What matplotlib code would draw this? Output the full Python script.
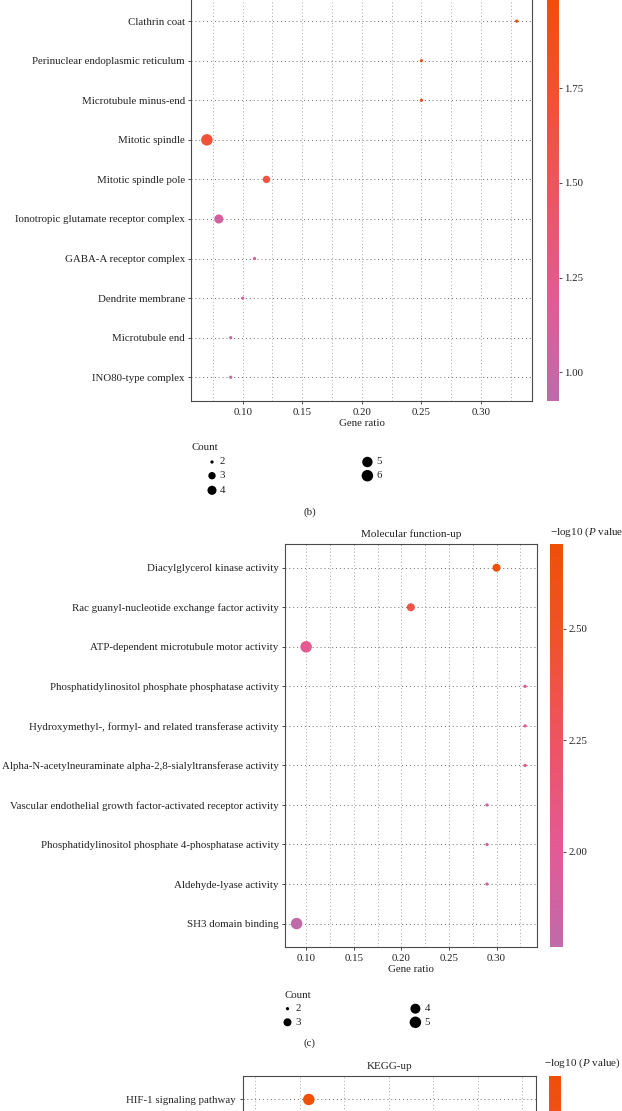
import numpy as np
import matplotlib
matplotlib.use("Agg")
import matplotlib.pyplot as plt
import matplotlib.cm as cm
from matplotlib.colors import LinearSegmentedColormap, Normalize
from matplotlib.ticker import MultipleLocator, FormatStrFormatter

plt.rcParams['font.family'] = ['Liberation Serif', 'DejaVu Serif']
plt.rcParams['mathtext.fontset'] = 'custom'
plt.rcParams['mathtext.rm'] = 'Liberation Serif'
plt.rcParams['mathtext.it'] = 'Liberation Serif:italic'
plt.rcParams['font.size'] = 7.8

# panel (b) cellular component-up
cc_terms = ["Clathrin coat", "Perinuclear endoplasmic reticulum", "Microtubule minus-end",
            "Mitotic spindle", "Mitotic spindle pole", "Ionotropic glutamate receptor complex",
            "GABA-A receptor complex", "Dendrite membrane", "Microtubule end", "INO80-type complex"]
cc_ratio = [0.33, 0.25, 0.25, 0.07, 0.12, 0.08, 0.11, 0.10, 0.09, 0.09]
cc_count = [2, 2, 2, 6, 3, 4, 2, 2, 2, 2]
cc_logp = [1.99, 1.91, 1.90, 1.68, 1.62, 1.08, 1.16, 1.12, 1.01, 0.924]
cc_breaks = [2, 3, 4, 5, 6]
cc_cticks = [1.00, 1.25, 1.50, 1.75]

# panel (c) molecular function-up
mf_terms = ["Diacylglycerol kinase activity",
            "Rac guanyl-nucleotide exchange factor activity",
            "ATP-dependent microtubule motor activity",
            "Phosphatidylinositol phosphate phosphatase activity",
            "Hydroxymethyl-, formyl- and related transferase activity",
            "Alpha-N-acetylneuraminate alpha-2,8-sialyltransferase activity",
            "Vascular endothelial growth factor-activated receptor activity",
            "Phosphatidylinositol phosphate 4-phosphatase activity",
            "Aldehyde-lyase activity", "SH3 domain binding"]
mf_ratio = [0.30, 0.21, 0.10, 0.33, 0.33, 0.33, 0.29, 0.29, 0.29, 0.09]
mf_count = [3, 3, 5, 2, 2, 2, 2, 2, 2, 5]
mf_logp = [2.69, 2.36, 2.03, 2.08, 2.08, 2.08, 1.95, 1.95, 1.92, 1.786]
mf_breaks = [2, 3, 4, 5]
mf_cticks = [2.00, 2.25, 2.50]

# KEGG-up (only the first row is in view)
kegg_terms = ["HIF-1 signaling pathway"]
kegg_ratio = [0.105]
kegg_count = [5]
kegg_logp = [3.02]
kegg_cticks = [2.0, 2.5]

W, H = 622, 1111
fig = plt.figure(figsize=(W / 100, H / 100), dpi=100)


def box(l, t, r, b):
    return [l / W, 1 - b / H, (r - l) / W, (b - t) / H]


cmap = LinearSegmentedColormap.from_list(
    'pv', ['#BF6BAA', '#E35A94', '#EE5464', '#F05230', '#EE5008'])

EDGE = '#4a4a4a'


def dot_size(count, lo, hi):
    c = np.asarray(count, float)
    mm = 1 + 5 * np.sqrt((c - lo) / (hi - lo))
    d = 1.6 + 1.65 * mm
    return (d * 0.72) ** 2


def dot_panel(ax, cax, terms, ratio, count, logp, xlim, slim, cticks, clim=None, nrows=None):
    if clim is None:
        clim = (min(logp), max(logp))
    if nrows is None:
        nrows = len(terms)
    norm = Normalize(*clim)
    y = np.arange(len(terms))
    ax.scatter(ratio, y, s=dot_size(count, *slim), c=logp, cmap=cmap, norm=norm,
               edgecolors='none', zorder=3)
    ax.set_yticks(y)
    ax.set_yticklabels(terms)
    ax.set_ylim(nrows - 0.4, -0.6)
    ax.set_xlim(xlim)
    ax.xaxis.set_major_locator(MultipleLocator(0.05))
    ax.xaxis.set_minor_locator(MultipleLocator(0.025))
    ax.xaxis.set_major_formatter(FormatStrFormatter('%.2f'))
    ax.grid(axis='x', which='both', color='#a8a8a8', lw=0.7, ls=(0, (1, 2.5)))
    ax.grid(axis='y', which='major', color='#6a6a6a', lw=0.7, ls=(0, (1, 3)))
    ax.set_axisbelow(True)
    for sp in ax.spines.values():
        sp.set_color(EDGE)
        sp.set_linewidth(0.8)
    ax.tick_params(which='major', direction='out', length=2.2, width=0.7,
                   color=EDGE, labelcolor='#222222', pad=2.5)
    ax.tick_params(which='minor', length=0)
    ax.set_xlabel('Gene ratio', labelpad=1.5, color='#222222')
    cb = fig.colorbar(cm.ScalarMappable(norm=norm, cmap=cmap), cax=cax)
    cb.outline.set_visible(False)
    cb.set_ticks(cticks)
    cb.ax.yaxis.set_major_formatter(FormatStrFormatter('%.2f'))
    cb.ax.tick_params(length=2, width=0.7, color=EDGE, labelcolor='#222222', pad=2)
    return cb


# (b)
ax_b = fig.add_axes(box(191.4, -2.6, 532.2, 401))
cax_b = fig.add_axes(box(546.9, -2.6, 558.8, 401))
dot_panel(ax_b, cax_b, cc_terms, cc_ratio, cc_count, cc_logp, (0.057, 0.343),
          (2, 6), cc_cticks)

# (c)
ax_c = fig.add_axes(box(285.2, 544, 536.5, 947.3))
cax_c = fig.add_axes(box(550, 544, 562.8, 947.3))
dot_panel(ax_c, cax_c, mf_terms, mf_ratio, mf_count, mf_logp, (0.078, 0.342),
          (2, 5), mf_cticks)
ax_c.set_title('Molecular function-up', pad=5, color='#222222', fontsize=8)

# KEGG (lower part runs past the bottom edge, as in the cropped figure)
ax_k = fig.add_axes(box(242.5, 1075.7, 535.7, 1480))
cax_k = fig.add_axes(box(549.2, 1075.7, 561.2, 1480))
cb_k = dot_panel(ax_k, cax_k, kegg_terms, kegg_ratio, kegg_count, kegg_logp,
                 (0.0677, 0.2327), (2, 5), kegg_cticks, clim=(1.55, 3.02), nrows=10)
ax_k.set_title('KEGG-up', pad=5, color='#222222', fontsize=8)
ax_k.set_xlabel('')
ax_k.tick_params(axis='x', labelbottom=False)
cb_k.ax.tick_params(labelright=False)

# overlay in pixel coords for legends and panel letters
ov = fig.add_axes([0, 0, 1, 1])
ov.set_xlim(0, W)
ov.set_ylim(H, 0)
ov.axis('off')
ov.patch.set_alpha(0)

ptitle = u'\u2212log10 ($\\mathit{P}$ value)'
ov.text(549.7, 532.7, ptitle, ha='left', va='center', color='#222222', fontsize=8)
ov.text(544, 1063.3, ptitle, ha='left', va='center', color='#222222', fontsize=8)


def count_legend(x0, ty, cols, rows, breaks, slim):
    ov.text(x0, ty, 'Count', ha='left', va='center', color='#222222')
    k = 0
    for (sx, lx), nr in cols:
        for j in range(nr):
            b = breaks[k]
            ov.scatter([sx], [rows[j]], s=dot_size([b], *slim), color='black',
                       edgecolors='none', clip_on=False)
            ov.text(lx, rows[j], str(b), ha='left', va='center', color='#222222')
            k += 1


count_legend(191.8, 447.3, [((212, 219.5), 3), ((367.4, 376.5), 2)],
             [462, 475.7, 490.3], cc_breaks, (2, 6))
count_legend(284.8, 995, [((287.5, 295.5), 2), ((415.4, 424.5), 2)],
             [1008.7, 1022.3], mf_breaks, (2, 5))

ov.text(309.8, 512.3, '(b)', ha='center', va='center', color='#222222')
ov.text(309.8, 1043.3, '(c)', ha='center', va='center', color='#222222')

fig.savefig('out.png', dpi=100)
